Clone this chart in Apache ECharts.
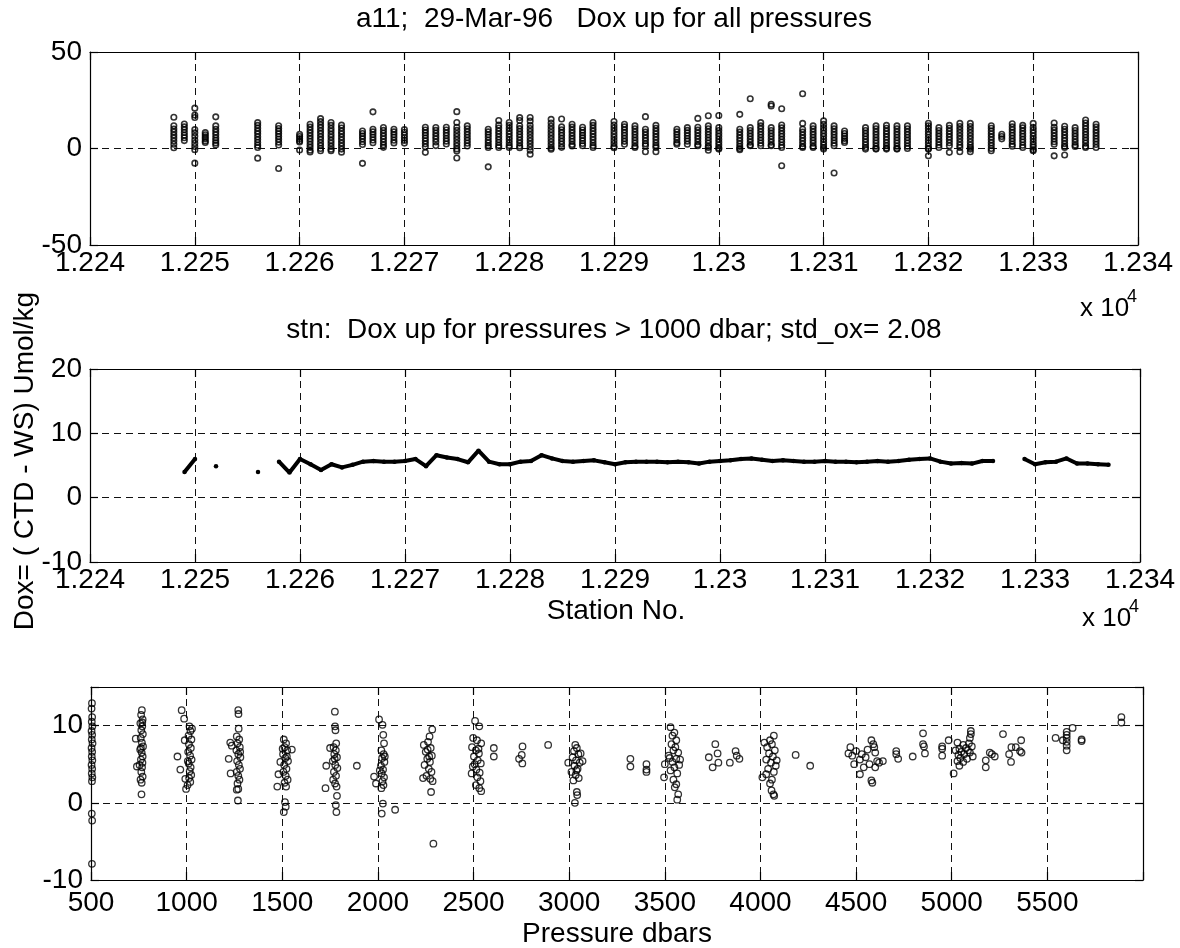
<!DOCTYPE html>
<html>
<head>
<meta charset="utf-8">
<script src="https://cdn.jsdelivr.net/npm/echarts@6/dist/echarts.min.js"></script>
<style>html,body{margin:0;padding:0;background:#fff;}#c{width:1180px;height:948px;}</style>
</head>
<body>
<div id="c"></div>
<script>
// ---------- DATA ----------
// Top panel: Dox (CTD - WS) per station, all pressures
const topStations = [12248,12249,12250,12251,12252,12256,12258,12260,12261,12262,12263,12264,12266,12267,12268,12269,12270,
  12272,12273,12274,12275,12276,12278,12279,12280,12281,12282,12284,12285,12286,12287,12288,12290,12291,12292,12293,12294,
  12296,12297,12298,12299,12300,12302,12303,12304,12305,12306,12308,12309,12310,12311,12312,12314,12315,12316,12317,12318,
  12320,12321,12322,12323,12324,12326,12327,12328,12329,12330,12332,12333,12334,12335,12336];
const topValues = [
  [16.2,11.8,10.1,8.6,7.0,5.5,3.9,2.2,0.4],
  [12.7,11.2,9.8,8.3,6.9,5.6,4.1],
  [20.9,17.3,16.1,9.8,8.1,6.3,4.4,2.7,1.0,-0.6,-7.6],
  [8.2,7.1,6.0,5.0,3.9,3.1],
  [16.4,11.7,10.0,8.5,7.1,5.6,4.2,2.9,1.8],
  [13.4,12.0,10.5,9.0,7.6,6.1,4.6,3.1,1.7,0.5,-5.0],
  [11.8,10.4,9.0,7.6,6.2,4.8,3.3,1.8,-10.4],
  [7.3,6.2,5.1,4.0,3.4,-0.8],
  [12.6,11.1,9.6,8.1,6.6,5.1,3.6,2.1,0.6,-0.9,-1.8],
  [15.5,13.9,12.3,10.8,9.2,7.7,6.1,4.6,3.0,1.5,0.0,-1.2],
  [13.5,12.0,10.4,8.9,7.3,5.8,4.2,2.7,1.1,-0.4,-1.2],
  [12.1,10.6,9.0,7.5,5.9,4.4,2.8,1.3,-0.3,-1.9],
  [9.1,7.8,6.4,5.0,3.5,2.1,-7.7],
  [19.0,10.0,8.6,7.2,5.8,4.4,3.0],
  [10.9,9.4,7.9,6.4,4.9,3.4,1.9,0.6],
  [10.0,8.6,7.2,5.8,4.3,2.9],
  [9.8,8.4,7.0,5.6,4.2,2.8],
  [11.0,9.6,8.2,6.8,5.3,3.9,2.4,0.9,-2.0],
  [10.9,9.4,7.9,6.4,4.9,3.4,1.5],
  [11.0,9.6,8.1,6.7,5.2,3.8,2.3],
  [19.1,13.5,11.0,9.4,7.8,6.2,4.6,3.0,1.4,-0.2,-1.3,-4.9],
  [11.7,10.2,8.7,7.2,5.7,4.2,2.7,1.3],
  [10.0,8.6,7.2,5.8,4.3,2.9,1.5,0.5,-9.5],
  [14.5,12.1,10.6,9.1,7.6,6.1,4.6,3.1,1.6,0.5],
  [13.5,12.0,10.5,9.0,7.5,6.0,4.5,3.0,1.5,0.5],
  [16.0,14.5,11.8,10.3,8.8,7.3,5.8,4.3,2.8,1.3,0.4],
  [16.1,14.2,12.0,10.4,8.8,7.2,5.6,4.0,2.4,0.8,-0.9,-3.0],
  [15.1,13.2,11.5,9.9,8.3,6.7,5.1,3.5,1.9,0.3,-0.4],
  [15.3,11.2,9.7,8.2,6.7,5.2,3.7,2.2,0.6],
  [12.6,11.1,9.6,8.1,6.6,5.1,3.6,2.1,1.3],
  [11.0,9.6,8.2,6.8,5.4,4.0,2.6,1.4],
  [13.5,12.0,10.5,9.0,7.5,6.0,4.5,3.0,1.5,0.5],
  [14.0,12.2,10.6,9.0,7.4,5.8,4.2,2.6,1.0,0.4],
  [12.6,11.2,9.7,8.2,6.7,5.2,3.7,2.2],
  [11.7,10.2,8.7,7.2,5.7,4.2,2.7,1.2,0.5],
  [16.5,10.0,8.5,7.0,5.5,4.0,2.5,1.4,-1.7],
  [12.0,10.5,9.0,7.5,6.0,4.5,3.0,1.5,0.5,-1.7],
  [10.0,8.6,7.2,5.8,4.4,3.0,2.2],
  [10.8,9.4,8.0,6.6,5.2,3.8,2.2],
  [15.6,11.0,9.5,8.0,6.5,5.0,3.5,2.0,1.4],
  [17.0,11.7,10.2,8.7,7.2,5.7,4.2,2.7,1.2,0.5,-0.9],
  [17.1,10.8,9.3,7.8,6.3,4.8,3.3,1.8,0.3,-0.3],
  [17.7,10.0,8.5,7.0,5.5,4.0,2.5,1.0,0.0,-0.6],
  [25.8,10.8,9.3,7.8,6.3,4.8,3.3,1.8,1.4],
  [13.4,11.7,10.2,8.7,7.2,5.7,4.2,2.7,1.4],
  [22.9,22.0,10.8,9.3,7.8,6.3,4.8,3.3,1.8,1.4],
  [20.6,12.2,10.7,9.2,7.7,6.2,4.7,3.2,1.7,0.5,-8.9],
  [28.4,13.0,10.0,8.5,7.0,5.5,4.0,2.5,1.0,0.5],
  [11.7,10.2,8.7,7.2,5.7,4.2,2.7,1.2,0.5],
  [14.3,12.5,10.8,9.3,7.8,6.3,4.8,3.3,1.8,0.5,-0.3],
  [11.7,10.2,8.7,7.2,5.7,4.2,2.7,1.4,-12.7],
  [9.1,7.8,6.5,5.2,4.0,3.1],
  [10.8,9.3,7.8,6.3,4.8,3.3,1.8,0.5,-0.3],
  [11.7,10.2,8.7,7.2,5.7,4.2,2.7,1.2,0.0,-0.3],
  [12.0,10.5,9.0,7.5,6.0,4.5,3.0,1.5,0.2,-0.3],
  [11.7,10.2,8.7,7.2,5.7,4.2,2.7,1.2,0.0,-0.3],
  [11.7,10.2,8.7,7.2,5.7,4.2,2.7,1.2,0.0],
  [13.1,11.7,10.2,8.7,7.2,5.7,4.2,2.7,1.2,0.0,-0.3,-3.8],
  [10.8,9.3,7.8,6.3,4.8,3.3,1.8,0.5],
  [12.0,10.5,9.0,7.5,6.0,4.5,3.0,1.4,-2.0],
  [13.0,11.4,9.8,8.2,6.6,5.0,3.4,1.8,0.5,-1.7],
  [13.0,11.4,9.8,8.2,6.6,5.0,3.4,1.8,0.5,-0.3,-1.7],
  [11.8,10.5,9.0,7.5,6.0,4.5,3.0,1.5,0.0,-1.2],
  [7.4,6.2,5.0],
  [12.8,11.2,9.7,8.2,6.7,5.2,3.7,2.2,1.2],
  [12.0,10.7,9.2,7.7,6.2,4.7,3.2,1.7,0.5],
  [13.0,11.0,9.5,8.0,6.5,5.0,3.5,2.0,0.7,-0.7,-1.2],
  [13.2,11.0,9.5,8.0,6.5,5.0,3.5,2.2,-3.8],
  [11.5,10.0,8.5,7.0,5.5,4.0,2.5,1.2,0.5,-3.4],
  [10.8,9.3,7.8,6.3,4.8,3.3,1.8,1.0],
  [14.8,13.2,11.7,10.2,8.7,7.2,5.7,4.2,2.7,1.2,0.5],
  [12.6,11.1,9.6,8.1,6.6,5.1,3.6,2.1,0.5]
];

// Middle panel: mean Dox for pressures > 1000 dbar (null = no value)
const midStations = [12249,12250,12251,12252,12253,12256,12257,12258,12259,12260,12261,12262,12263,12264,12265,12266,12267,
  12268,12269,12270,12271,12272,12273,12274,12275,12276,12277,12278,12279,12280,12281,12282,12283,12284,12285,12286,12287,
  12288,12289,12290,12291,12292,12293,12294,12295,12296,12297,12298,12299,12300,12301,12302,12303,12304,12305,12306,12307,
  12308,12309,12310,12311,12312,12313,12314,12315,12316,12317,12318,12319,12320,12321,12322,12323,12324,12325,12326,12327,
  12329,12330,12331,12332,12333,12334,12335,12336,12337];
const midValues = [4.0,6.0,null,4.9,null,4.0,null,5.6,3.9,6.0,5.2,4.3,5.2,4.7,5.1,5.6,5.7,
  5.6,5.6,5.7,6.0,4.9,6.6,6.25,6.0,5.5,7.3,5.6,5.2,5.2,5.6,5.7,6.6,6.1,5.7,5.6,5.7,
  5.8,5.5,5.2,5.5,5.6,5.6,5.6,5.5,5.6,5.5,5.3,5.6,5.7,5.8,6.0,6.1,5.9,5.7,5.8,5.7,
  5.6,5.6,5.7,5.6,5.6,5.5,5.6,5.7,5.6,5.7,5.9,6.0,6.1,5.6,5.3,5.4,5.3,5.7,5.7,null,
  6.0,5.2,5.5,5.6,6.1,5.3,5.3,5.2,5.1];

// Bottom panel: Dox vs pressure (dbar, value)
const pressurePoints = [
  // ~500 dbar
  [505,12.9],[503,12.2],[506,11.1],[504,10.5],[507,9.9],[503,9.3],[506,8.8],[504,8.2],[508,7.7],[503,7.1],[506,6.6],[504,6.0],
  [507,5.5],[503,4.9],[506,4.4],[504,3.8],[507,3.3],[505,2.8],[504,-1.4],[506,-2.3],[505,-7.9],
  // ~750 dbar
  [766,12.0],[762,11.4],[770,10.8],[758,10.3],[768,9.9],[763,9.4],[771,8.9],[734,8.3],[760,8.4],[766,7.8],[772,7.3],[757,6.9],
  [765,6.5],[770,6.0],[761,5.6],[754,4.9],[740,4.7],[767,4.6],[763,4.0],[770,3.4],[759,3.0],[765,2.6],[764,1.1],[768,10.4],[761,7.1],[769,5.2],
  // ~1000 dbar
  [952,6.0],[974,12.0],[987,10.9],[967,4.3],[990,8.1],[993,3.1],[997,1.8],[1005,2.3],[1015,9.9],[1020,9.3],[1010,8.7],[1025,8.2],
  [1012,7.6],[1022,7.1],[1008,6.6],[1018,6.1],[1026,5.6],[1011,5.1],[1021,4.6],[1016,4.1],[1024,3.6],[1013,3.2],[1019,2.7],[1028,9.6],[1006,5.4],
  // ~1250 dbar
  [1270,12.0],[1271,11.5],[1272,9.6],[1220,5.7],[1230,3.8],[1228,7.8],[1236,7.4],[1262,8.6],[1275,8.2],[1266,7.7],[1278,7.2],[1260,6.8],
  [1270,6.3],[1281,5.9],[1264,5.4],[1273,4.9],[1279,4.4],[1262,4.0],[1270,3.5],[1276,3.0],[1266,2.5],[1270,1.8],[1262,1.7],[1268,0.3],[1280,6.6],
  // ~1500 dbar
  [1474,2.1],[1480,3.7],[1490,5.3],[1508,8.2],[1520,7.7],[1512,7.2],[1526,6.8],[1504,6.3],[1516,5.8],[1530,5.4],[1510,4.9],[1522,4.4],
  [1506,4.0],[1518,3.5],[1528,3.0],[1512,2.6],[1520,2.1],[1514,0.1],[1518,-0.5],[1508,-1.2],[1550,6.9],[1524,6.0],[1502,7.0],
  // ~1750 dbar
  [1726,1.9],[1730,4.8],[1750,7.1],[1775,11.8],[1776,9.9],[1778,9.4],[1782,7.7],[1768,7.2],[1780,6.8],[1772,6.3],[1786,5.9],[1764,5.4],
  [1777,4.9],[1788,4.5],[1770,4.0],[1781,3.5],[1766,3.0],[1776,2.5],[1784,2.1],[1786,0.9],[1780,-0.3],[1783,-1.2],[1774,5.7],[1890,4.8],
  // ~2000 dbar
  [1980,3.4],[1990,2.5],[2006,10.8],[2024,10.1],[2028,8.8],[2032,7.7],[2018,6.8],[2030,6.3],[2022,5.8],[2034,5.3],[2016,4.8],[2027,4.3],
  [2020,3.8],[2032,3.3],[2024,2.8],[2029,2.3],[2018,1.9],[2026,-0.1],[2020,-1.4],[2090,-0.9],[2010,4.2],[2036,6.0],
  // ~2250 dbar
  [2284,9.5],[2270,8.6],[2240,7.5],[2262,7.9],[2276,7.1],[2250,6.6],[2282,6.1],[2258,5.7],[2272,5.3],[2244,4.9],[2266,4.4],[2280,4.0],
  [2254,3.5],[2274,3.1],[2286,2.8],[2260,6.9],[2278,1.4],[2290,-5.3],[2236,3.2],[2268,6.0],
  // ~2500 dbar
  [2508,10.6],[2530,9.9],[2498,8.4],[2518,8.1],[2540,7.7],[2492,7.2],[2512,6.8],[2528,6.4],[2502,6.0],[2522,5.5],[2538,5.1],[2496,4.7],
  [2515,4.3],[2532,3.9],[2490,3.8],[2520,3.3],[2536,2.8],[2512,2.3],[2530,1.9],[2540,1.5],[2506,5.0],[2526,7.0],
  [2606,7.1],[2606,6.0],[2756,7.3],[2752,6.2],[2738,5.7],[2755,5.1],[2890,7.5],
  // ~3000 dbar
  [3032,7.5],[3040,7.1],[3025,6.7],[3048,6.3],[3018,5.9],[3036,5.5],[3055,5.2],[2995,5.2],[3028,4.8],[3044,4.4],[3012,4.0],[3034,3.6],
  [3050,3.2],[3022,2.9],[3040,1.4],[3042,1.0],[3030,0.0],[3070,5.4],[3060,6.4],[3038,4.2],
  [3320,5.7],[3320,4.7],[3404,5.0],[3404,4.3],[3404,4.0],
  // ~3500 dbar
  [3530,9.8],[3550,9.1],[3540,8.7],[3560,8.1],[3535,7.6],[3555,7.2],[3545,6.8],[3570,6.5],[3520,6.1],[3560,5.7],[3540,5.3],[3580,5.6],
  [3500,5.0],[3550,4.6],[3530,4.2],[3565,3.8],[3496,3.3],[3545,3.0],[3560,2.4],[3552,2.0],[3570,1.1],[3565,0.4],[3525,5.8],[3575,4.9],
  [3730,5.9],[3750,4.6],[3764,7.6],[3776,6.4],[3780,5.2],[3840,5.2],[3870,6.7],[3876,6.1],[3890,5.7],
  // ~4000 dbar
  [4070,8.7],[4050,8.1],[4060,7.6],[4035,7.2],[4075,6.8],[4045,6.4],[4065,6.0],[4030,5.6],[4055,5.2],[4080,4.8],[4040,4.4],[4070,4.0],
  [4010,3.3],[4030,3.7],[4060,3.0],[4050,2.5],[4058,1.6],[4068,1.1],[4072,0.9],[4020,7.8],[4085,5.5],
  [4184,6.2],[4260,4.8],
  // ~4550 dbar
  [4580,8.1],[4590,7.6],[4470,7.2],[4500,6.7],[4530,6.3],[4560,6.9],[4600,6.5],[4480,6.1],[4520,5.6],[4550,5.9],[4610,5.4],[4640,5.4],
  [4490,5.0],[4570,5.0],[4600,4.6],[4540,4.6],[4520,3.7],[4580,2.9],[4585,2.6],[4620,5.2],[4460,6.4],[4595,7.2],
  [4710,6.7],[4710,6.3],[4720,5.7],[4796,6.0],[4850,9.0],[4850,7.6],[4855,7.3],[4860,6.4],[4950,7.3],[4950,7.0],[4950,6.1],[4984,8.1],
  // ~5050 dbar
  [5010,3.8],[5100,9.3],[5100,8.9],[5095,8.4],[5030,7.8],[5060,7.5],[5090,7.7],[5040,7.0],[5075,7.1],[5105,7.3],[5050,6.6],[5085,6.8],
  [5035,6.2],[5065,6.3],[5095,6.5],[5045,5.8],[5080,5.7],[5030,5.4],[5060,5.3],[5040,4.8],[5110,6.0],[5020,6.8],
  [5178,5.5],[5178,4.6],[5199,6.5],[5210,6.3],[5225,6.0],[5268,8.9],[5300,6.3],[5310,5.3],[5312,7.2],[5335,7.2],[5357,6.7],[5363,8.1],[5365,6.5],
  // > 5500 dbar
  [5543,8.4],[5581,8.1],[5601,9.2],[5601,8.8],[5601,8.4],[5601,7.9],[5601,7.4],[5601,6.8],[5632,9.7],[5679,8.2],[5679,8.0],[5887,11.1],[5887,10.4]
];

// Axis ranges and ticks
const stationAxis = {min: 12240, max: 12340, interval: 10};
const topY = {min: -50, max: 50, interval: 50};
const midY = {min: -10, max: 20, interval: 10};
const pressAxis = {min: 500, max: 6000, interval: 500};
const botY = {min: -10, max: 15, interval: 10};

const texts = {
  title1: 'a11;  29-Mar-96   Dox up for all pressures',
  title2: 'stn:  Dox up for pressures > 1000 dbar; std_ox= 2.08',
  yName: 'Dox= ( CTD - WS) Umol/kg',
  xName1: 'Station No.',
  xName2: 'Pressure dbars',
  exp: 'x 10',
  expPow: '4'
};

// ---------- CHART ----------
const FONT = '"Liberation Sans", Arial, Helvetica, sans-serif';
const chart = echarts.init(document.getElementById('c'), null, {renderer: 'canvas'});

const grids = [
  {left: 90, top: 52, width: 1048, height: 193},
  {left: 90, top: 369, width: 1050, height: 193},
  {left: 91, top: 687, width: 1052, height: 193}
];

const dash = {color: '#111', width: 1, type: [7, 5]};
function stnLabel(v) { return String(+(v / 10000).toFixed(4)); }

function mkX(gi, rng, primary, fmt, margin) {
  return {
    type: 'value', gridIndex: gi, position: primary ? 'bottom' : 'top',
    min: rng.min, max: rng.max, interval: rng.interval,
    axisLine: {show: true, onZero: false, lineStyle: {color: '#000', width: 1.2}},
    axisTick: {show: true, inside: true, length: 8, lineStyle: {color: '#000', width: 1.2}},
    axisLabel: primary ? {show: true, color: '#000', fontSize: 28, fontFamily: FONT, margin: margin,
      formatter: fmt, showMaxLabel: true, showMinLabel: true} : {show: false},
    splitLine: primary ? {show: true, lineStyle: dash} : {show: false}
  };
}
function mkY(gi, rng, primary, fmt) {
  return {
    type: 'value', gridIndex: gi, position: primary ? 'left' : 'right',
    min: rng.min, max: rng.max, interval: rng.interval,
    axisLine: {show: true, onZero: false, lineStyle: {color: '#000', width: 1.2}},
    axisTick: {show: true, inside: true, length: 8, lineStyle: {color: '#000', width: 1.2}},
    axisLabel: primary ? {show: true, color: '#000', fontSize: 28, fontFamily: FONT, margin: 8, formatter: fmt} : {show: false},
    splitLine: primary ? {show: true, lineStyle: dash} : {show: false}
  };
}

const xAxes = [
  mkX(0, stationAxis, true, stnLabel, 4), mkX(0, stationAxis, false),
  mkX(1, stationAxis, true, stnLabel, 4), mkX(1, stationAxis, false),
  mkX(2, pressAxis, true, v => (v === pressAxis.max ? '' : String(v)), 9), mkX(2, pressAxis, false)
];
const yAxes = [
  mkY(0, topY, true, v => String(v)), mkY(0, topY, false),
  mkY(1, midY, true, v => String(v)), mkY(1, midY, false),
  mkY(2, botY, true, v => (v === botY.max ? '' : String(v))), mkY(2, botY, false)
];

const topData = [];
topStations.forEach((s, i) => topValues[i].forEach(v => topData.push([s, v])));
const midData = midStations.map((s, i) => [s, midValues[i] === null ? '-' : midValues[i]]);

const circleTop = {color: 'rgba(0,0,0,0)', borderColor: '#000', borderWidth: 1.6};
const circle = {color: 'rgba(0,0,0,0)', borderColor: '#000', borderWidth: 1.3};

function txt(t, x, y, size, align, vAlign, extra) {
  return Object.assign({
    type: 'text', x: x, y: y, silent: true,
    style: {text: t, fontSize: size, fontFamily: FONT, fill: '#000',
      textAlign: align, textVerticalAlign: vAlign, align: align, verticalAlign: vAlign}
  }, extra || {});
}

chart.setOption({
  animation: false,
  backgroundColor: '#fff',
  grid: grids,
  xAxis: xAxes,
  yAxis: yAxes,
  series: [
    {type: 'scatter', xAxisIndex: 0, yAxisIndex: 0, data: topData, symbol: 'circle', symbolSize: 5.5, itemStyle: circleTop},
    {type: 'line', xAxisIndex: 2, yAxisIndex: 2, data: midData, connectNulls: false, showSymbol: true,
      symbol: 'circle', symbolSize: 4.5, itemStyle: {color: '#000'}, lineStyle: {color: '#000', width: 4}},
    {type: 'scatter', xAxisIndex: 4, yAxisIndex: 4, data: pressurePoints, symbol: 'circle', symbolSize: 6.5, itemStyle: circle}
  ],
  graphic: [
    txt(texts.title1, 614, 19, 28, 'center', 'middle'),
    txt(texts.title2, 614, 330, 28, 'center', 'middle'),
    txt(texts.exp, 1080, 309, 26, 'left', 'middle'),
    txt(texts.expPow, 1127, 297, 18, 'left', 'middle'),
    txt(texts.exp, 1082, 619, 26, 'left', 'middle'),
    txt(texts.expPow, 1129, 607, 18, 'left', 'middle'),
    txt(texts.xName1, 616, 611, 28, 'center', 'middle'),
    txt(texts.xName2, 617, 934, 28, 'center', 'middle'),
    txt(texts.yName, 25, 461, 28, 'center', 'middle', {rotation: Math.PI / 2})
  ]
});
</script>
</body>
</html>
